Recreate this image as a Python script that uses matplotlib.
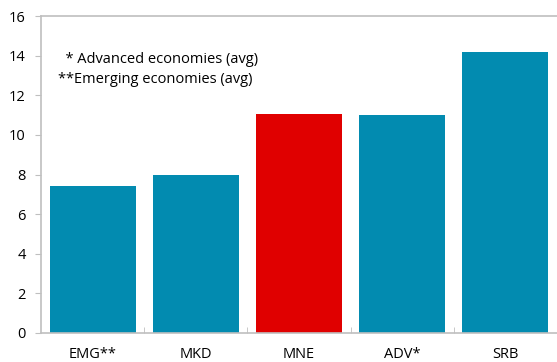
import matplotlib.pyplot as plt
import numpy as np

plt.rcParams['font.family'] = ['Open Sans', 'DejaVu Sans']

categories = ['EMG**', 'MKD', 'MNE', 'ADV*', 'SRB']
values = [7.4, 8.0, 11.05, 11.0, 14.2]
colors = ['#028bb0', '#028bb0', '#e00000', '#028bb0', '#028bb0']
notes = ['  * Advanced economies (avg)', '**Emerging economies (avg)']

fig = plt.figure(figsize=(5.57, 3.62), dpi=100)
ax = fig.add_axes([41 / 557, 1 - 333 / 362, 516 / 557, 317 / 362])

x = np.arange(len(categories))
ax.bar(x, values, width=0.835, color=colors, zorder=2)

ax.set_xlim(-0.5, len(categories) - 0.5)
ax.set_ylim(0, 16)
ax.set_yticks(np.arange(0, 17, 2))

# category labels centred, tick marks on the boundaries
ax.set_xticks(x)
ax.set_xticklabels(categories, fontsize=10.5)
ax.tick_params(axis='x', length=0, pad=10)
ax.set_xticks(np.arange(0.5, len(categories) - 0.5), minor=True)
ax.tick_params(axis='x', which='minor', length=4, color='#bfbfbf', direction='in')

ax.tick_params(axis='y', length=4, color='#bfbfbf', labelsize=10.5, pad=7)

ax.spines['right'].set_visible(False)
for s in ['left', 'bottom', 'top']:
    ax.spines[s].set_color('#bfbfbf')
    ax.spines[s].set_linewidth(1.2)

ax.text(0.032, 0.864, notes[0], transform=ax.transAxes, fontsize=10.5, va='center')
ax.text(0.032, 0.801, notes[1], transform=ax.transAxes, fontsize=10.5, va='center')

fig.savefig('out.png', dpi=100)
